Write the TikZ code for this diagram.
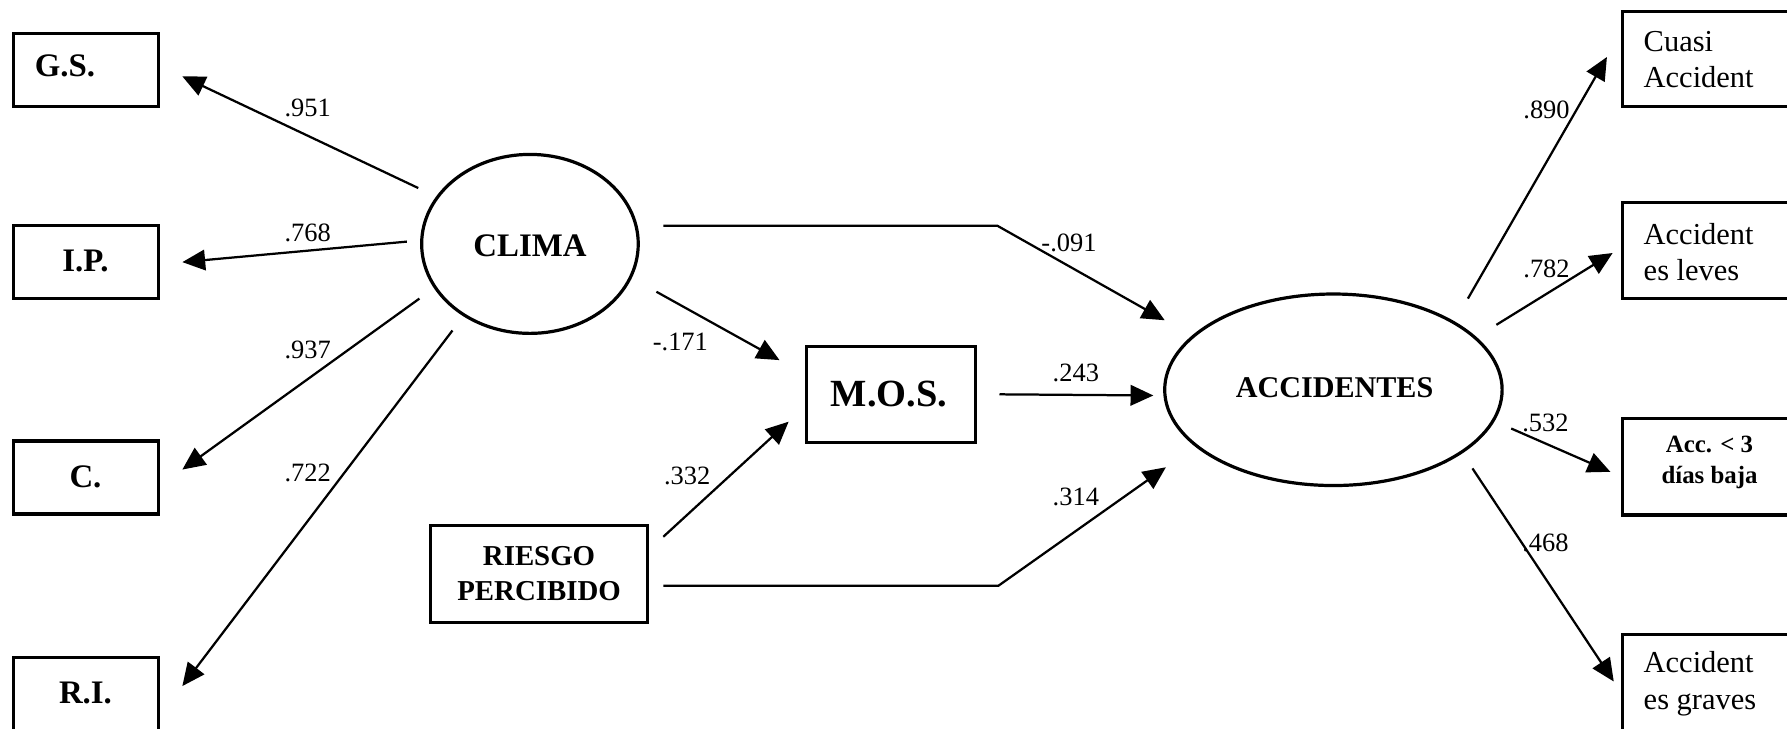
\documentclass[tikz,border=0pt]{standalone}
\usepackage{fontspec}
\setmainfont{Liberation Serif}
\usetikzlibrary{arrows.meta,shapes.geometric}
\begin{document}
\begin{tikzpicture}[x=0.025cm,y=-0.025cm,
  box/.style={draw,line width=2pt,rectangle,inner sep=0pt},
  lat/.style={draw,ellipse,line width=2pt,inner sep=0pt},
  arr/.style={line width=1.4pt,-{Triangle[length=0.5cm,width=0.45cm]}},
  lab/.style={font=\fontsize{16.5}{18}\selectfont,inner sep=0pt},
  btxt/.style={font=\fontsize{20.5}{24}\selectfont\bfseries,inner sep=0pt},
  rtxt/.style={font=\fontsize{19}{22.7}\selectfont,inner sep=0pt,align=left,anchor=west}]
\useasboundingbox (0,0) rectangle (1568,639);
\clip (0,0) rectangle (1568,639);

% left observed boxes
\node[box,minimum width=3.175cm,minimum height=1.6cm] (gs) at (75.5,61.5) {};
\node[btxt] (gst) at (57,58) {G.S.};
\node[box,minimum width=3.175cm,minimum height=1.6cm] (ip) at (75.5,230) {};
\node[btxt] (ipt) at (75,229) {I.P.};
\node[box,minimum width=3.175cm,minimum height=1.6cm] (cc) at (75.5,419) {};
\node[btxt] (cct) at (75,418) {C.};
\node[box,minimum width=3.175cm,minimum height=1.6cm] (ri) at (75.5,609) {};
\node[btxt] (rit) at (75,608) {R.I.};

% latent variables
\node[lat,minimum width=4.75cm,minimum height=3.925cm] (clima) at (465,214) {};
\node[btxt] (climat) at (465,216) {CLIMA};
\node[lat,minimum width=7.4cm,minimum height=4.2cm] (acc) at (1170,342) {};
\node[font=\fontsize{18.8}{22}\selectfont\bfseries,inner sep=0pt] (acct) at (1171,340) {ACCIDENTES};

% middle boxes
\node[box,minimum width=3.7cm,minimum height=2.1cm] (mos) at (782,346) {};
\node[font=\fontsize{24}{28}\selectfont\bfseries,inner sep=0pt] (most) at (780,346) {M.O.S.};
\node[box,minimum width=4.75cm,minimum height=2.125cm] (rp) at (473,503.5) {};
\node[font=\fontsize{18}{21.8}\selectfont\bfseries,inner sep=0pt,align=center] (rpt) at (473,503) {RIESGO\\PERCIBIDO};

% right observed boxes
\node[box,minimum width=3.65cm,minimum height=2.08cm] (cuasi) at (1497,51.5) {};
\node[rtxt] (cuasit) at (1442,52) {Cuasi\\Accident};
\node[box,minimum width=3.65cm,minimum height=2.12cm] (acc3) at (1497,409.5) {};
\node[box,minimum width=3.65cm,minimum height=2.1cm] (leves) at (1497,220) {};
\node[rtxt] (levest) at (1442,221) {Accident\\es leves};
\node[font=\fontsize{15.5}{19.1}\selectfont\bfseries,inner sep=0pt,align=center] (acc3t) at (1500,406) {Acc. < 3\\días baja};
\node[box,minimum width=3.65cm,minimum height=2.1cm] (graves) at (1497,599) {};
\node[rtxt] (gravest) at (1442,600) {Accident\\es graves};

% connector end points
\coordinate (c-gs) at (367,165);   \coordinate (gs-in) at (160,67);
\coordinate (c-ip) at (357,212);   \coordinate (ip-in) at (160,230);
\coordinate (c-cc) at (368,262);   \coordinate (cc-in) at (160,412);
\coordinate (c-ri) at (397,290);   \coordinate (ri-in) at (160,602);
\coordinate (c-acc) at (582,198);  \coordinate (bend1) at (875,198); \coordinate (acc-in1) at (1022,281);
\coordinate (c-mos) at (576,256);  \coordinate (mos-in1) at (684,316);
\coordinate (mos-out) at (877,346); \coordinate (acc-in2) at (1012,347);
\coordinate (rp-mos) at (582,471); \coordinate (mos-in2) at (692,370);
\coordinate (rp-acc) at (582,514); \coordinate (bend2) at (876,514); \coordinate (acc-in3) at (1023,410);
\coordinate (a-cuasi) at (1288,262); \coordinate (cuasi-in) at (1410,50);
\coordinate (a-leves) at (1313,285); \coordinate (leves-in) at (1415,222);
\coordinate (a-acc3) at (1326,376);  \coordinate (acc3-in) at (1413,414);
\coordinate (a-graves) at (1292,411); \coordinate (graves-in) at (1416,598);

% connectors
\draw[arr] (c-gs) -- (gs-in);
\draw[arr] (c-ip) -- (ip-in);
\draw[arr] (c-cc) -- (cc-in);
\draw[arr] (c-ri) -- (ri-in);
\draw[arr] (c-acc) -- (bend1) -- (acc-in1);
\draw[arr] (c-mos) -- (mos-in1);
\draw[arr] (mos-out) -- (acc-in2);
\draw[arr] (rp-mos) -- (mos-in2);
\draw[arr] (rp-acc) -- (bend2) -- (acc-in3);
\draw[arr] (a-cuasi) -- (cuasi-in);
\draw[arr] (a-leves) -- (leves-in);
\draw[arr] (a-acc3) -- (acc3-in);
\draw[arr] (a-graves) -- (graves-in);

% coefficient labels
\node[lab] (l1) at (270,95) {.951};
\node[lab] (l2) at (270,204) {.768};
\node[lab] (l3) at (270,307) {.937};
\node[lab] (l4) at (270,415) {.722};
\node[lab] (l5) at (938,213) {-.091};
\node[lab] (l6) at (597,300) {-.171};
\node[lab] (l7) at (944,327) {.243};
\node[lab] (l8) at (603,418) {.332};
\node[lab] (l9) at (944,436) {.314};
\node[lab] (l10) at (1357,96) {.890};
\node[lab] (l11) at (1357,236) {.782};
\node[lab] (l12) at (1356,371) {.532};
\node[lab] (l13) at (1356,476) {.468};
\end{tikzpicture}
\end{document}
